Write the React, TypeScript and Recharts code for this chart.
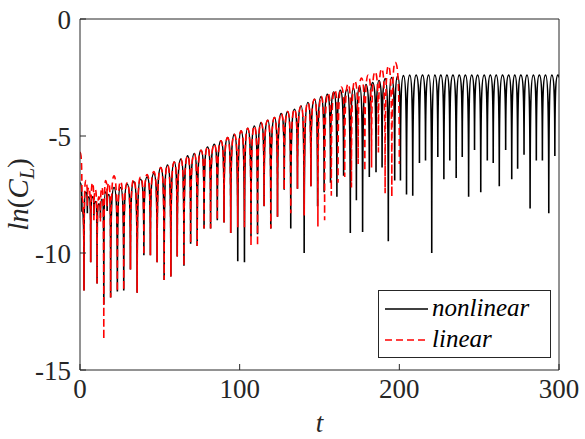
import { Legend, Line, LineChart, XAxis, YAxis } from 'recharts'

// ln(C_L) history: one sample per crest and per trough of the lift oscillation
const nonlinearT = [
  0, 1.2, 2.5, 3.6, 4.6, 5.6, 6.7, 7.8, 8.7, 9.7, 10.7, 11.8, 12.8, 13.8, 14.9, 16.0, 17.0, 18.1, 19.2,
  21.3, 23.4, 25.4, 27.4, 29.5, 31.6, 33.7, 35.8, 37.9, 40.0, 42.0, 44.1, 46.2, 48.3,
  50.6, 52.7, 54.8, 56.9, 59.0, 60.9, 63.2, 65.1, 67.4, 69.3, 71.6, 73.4, 75.8, 77.7, 79.9, 81.8,
  84.1, 86.0, 88.3, 90.2, 92.5, 94.4, 96.7, 98.8, 100.9, 103.0, 105.0, 107.1, 109.2, 111.2,
  113.4, 115.3, 117.6, 119.5, 121.8, 123.7, 126.0, 127.9, 130.1, 132.0, 134.3, 136.2, 138.5, 140.4,
  142.7, 144.6, 146.9, 148.8, 150.9, 152.9, 154.9, 156.9, 158.9, 160.9, 163.0, 165.1, 167.2, 169.3,
  171.2, 173.1, 175.1, 177.0, 179.1, 181.2, 183.3, 185.4, 187.3, 189.2, 191.2, 193.1, 195.1, 197.1,
  198.9, 200.7, 202.6, 204.5, 206.5, 208.4, 210.5, 212.6, 214.5, 216.4, 218.4, 220.3, 222.2, 224.1,
  226.0, 227.9, 229.8, 231.6, 233.6, 235.6, 237.5, 239.4, 241.4, 243.4, 245.3, 247.1, 249.1, 251.0,
  253.1, 255.1, 257.0, 258.8, 260.7, 262.6, 264.6, 266.6, 268.5, 270.4, 272.3, 274.1, 276.1, 278.1,
  280.0, 281.9, 283.9, 285.8, 287.7, 289.6, 291.6, 293.6, 295.5, 297.4, 299.3, 300,
]
const nonlinearY = [
  -7.0, -8.2, -11.6, -7.4, -8.3, -7.6, -10.4, -7.6, -8.4, -7.8, -11.3, -7.9, -8.5, -7.7, -12.2, -7.4, -8.2, -7.5, -11.9,
  -7.2, -11.65, -7.2, -11.6, -7.05, -10.7, -6.95, -11.7, -6.85, -10.1, -6.75, -10.1, -6.6, -10.4,
  -6.35, -11.15, -6.24, -11.0, -6.11, -10.15, -5.99, -10.55, -5.85, -9.6, -5.75, -9.7, -5.61, -8.95, -5.47, -8.95,
  -5.35, -8.6, -5.21, -8.7, -5.07, -9.15, -4.93, -10.35, -4.78, -10.4, -4.67, -9.3, -4.57, -9.2,
  -4.43, -8.0, -4.33, -8.95, -4.21, -8.45, -4.04, -7.3, -3.96, -8.95, -3.86, -7.25, -3.72, -10.0,
  -3.57, -7.15, -3.43, -8.0, -3.32, -7.4, -3.22, -7.0, -3.12, -7.6, -3.05, -6.7, -3.0, -9.15,
  -2.95, -7.75, -2.88, -9.1, -2.8, -6.75, -2.72, -6.55, -2.63, -6.35, -2.55, -9.5, -2.5, -6.9,
  -2.45, -6.9, -2.42, -7.5, -2.4, -7.55, -2.4, -6.15, -2.4, -6.05, -2.4, -10.0, -2.4, -5.9,
  -2.4, -6.85, -2.4, -6.05, -2.4, -6.8, -2.4, -5.9, -2.4, -7.6, -2.4, -5.6, -2.4, -7.4,
  -2.4, -6.05, -2.4, -6.15, -2.4, -7.15, -2.4, -5.6, -2.4, -6.85, -2.4, -6.4, -2.4, -5.8,
  -2.4, -8.1, -2.4, -6.05, -2.4, -6.05, -2.4, -8.3, -2.4, -5.85, -2.4, -2.5,
]

const linearT = [
  0, 1.2, 2.5, 3.6, 4.6, 5.6, 6.7, 7.8, 8.7, 9.7, 10.7, 11.8, 12.8, 13.8, 14.9, 16.0, 17.0, 18.1, 19.2,
  21.3, 23.4, 25.4, 27.4, 29.5, 31.6, 33.7, 35.8, 37.9, 40.0, 42.0, 44.1, 46.2, 48.3,
  50.6, 52.7, 54.8, 56.9, 59.0, 60.9, 63.2, 65.1, 67.4, 69.3, 71.6, 73.4, 75.8, 77.7, 79.9, 81.8,
  84.1, 86.0, 88.3, 90.2, 92.5, 94.4, 96.7, 98.8, 100.9, 103.0, 105.0, 107.1, 109.2, 111.2,
  113.4, 115.3, 117.6, 119.5, 121.8, 123.7, 126.0, 127.9, 130.1, 132.0, 134.3, 136.2, 138.5, 140.4,
  142.7, 144.6, 146.9, 149.0, 151.1, 153.2, 155.3, 157.4, 159.5, 161.6, 163.7, 165.8, 167.9, 170.0,
  172.1, 174.2, 176.3, 178.4, 180.5, 182.6, 184.8, 186.9, 189.0, 191.1, 193.2, 195.3, 197.4, 200.0,
]
const linearY = [
  -5.7, -7.6, -11.6, -6.9, -8.0, -7.2, -10.4, -7.0, -8.6, -7.3, -11.3, -7.6, -8.7, -7.2, -13.7, -6.9, -8.0, -7.0, -11.9,
  -6.7, -11.65, -6.95, -11.6, -7.0, -10.7, -6.85, -11.7, -6.75, -10.1, -6.65, -10.1, -6.52, -10.4,
  -6.35, -11.15, -6.24, -11.0, -6.11, -10.15, -5.99, -10.55, -5.85, -9.6, -5.75, -9.7, -5.61, -8.95, -5.47, -8.95,
  -5.35, -8.6, -5.21, -8.7, -5.07, -9.15, -4.93, -8.9, -4.78, -8.9, -4.67, -9.7, -4.57, -9.7,
  -4.43, -8.0, -4.33, -8.95, -4.21, -8.45, -4.04, -7.3, -3.96, -8.3, -3.86, -7.25, -3.72, -8.4,
  -3.57, -7.15, -3.43, -8.87, -3.3, -8.6, -3.17, -7.55, -3.04, -7.0, -2.91, -6.75, -2.78, -7.2,
  -2.65, -6.2, -2.52, -6.5, -2.39, -6.35, -2.26, -5.7, -2.13, -7.45, -2.0, -7.6, -1.85, -6.2,
]

const xTicks = [0, 100, 200, 300]
const yTicks = [-15, -10, -5, 0]

const toPoints = (ts: number[], ys: number[]) => ts.map((t, i) => ({ t, v: ys[i] }))
const nonlinearData = toPoints(nonlinearT, nonlinearY)
const linearData = toPoints(linearT, linearY)

// a log-magnitude trace has round crests and sharp cusps at the zero crossings,
// so each segment leaves a crest flat and enters a trough vertically
function cuspCurve(context: any) {
  let px = NaN
  let py = NaN
  let started = false
  return {
    areaStart() {},
    areaEnd() {},
    lineStart() {
      started = false
    },
    lineEnd() {},
    point(x: number, y: number) {
      x = +x
      y = +y
      if (!started) {
        context.moveTo(x, y)
        started = true
      } else {
        const dx = x - px
        const dy = y - py
        if (dy > 0) {
          context.bezierCurveTo(px + dx * 0.65, py, x, py + dy * 0.2, x, y)
        } else {
          context.bezierCurveTo(px, y - dy * 0.2, x - dx * 0.65, y, x, y)
        }
      }
      px = x
      py = y
    },
  }
}

const FONT = '"Liberation Serif", "DejaVu Serif", serif'
const AXIS = '#262626'
const tickStyle = { fill: AXIS, fontSize: 27, fontFamily: FONT }

function YTitle({ viewBox }: any) {
  const cy = viewBox ? viewBox.y + viewBox.height / 2 : 195
  return (
    <text
      transform={`translate(28, ${cy}) rotate(-90)`}
      textAnchor="middle"
      fontFamily={FONT}
      fontSize={29}
      fill={AXIS}
    >
      <tspan fontStyle="italic">ln</tspan>
      <tspan>(</tspan>
      <tspan fontStyle="italic">C</tspan>
      <tspan fontStyle="italic" fontSize={20} dy={6}>L</tspan>
      <tspan dy={-6}>)</tspan>
    </text>
  )
}

function XTitle({ viewBox }: any) {
  const cx = viewBox ? viewBox.x + viewBox.width / 2 : 319
  return (
    <text x={cx} y={432} textAnchor="middle" fontFamily={FONT} fontSize={27} fontStyle="italic" fill={AXIS}>
      t
    </text>
  )
}

function LegendBox() {
  return (
    <svg width={173} height={68} style={{ display: 'block' }}>
      <rect x={0.5} y={0.5} width={172} height={67} fill="#fff" stroke={AXIS} strokeWidth={1} />
      <line x1={7} x2={50} y1={19} y2={19} stroke="#000" strokeWidth={1.6} />
      <text x={54} y={26} fontFamily={FONT} fontSize={25} fontStyle="italic" fill="#000">
        nonlinear
      </text>
      <line x1={7} x2={50} y1={50} y2={50} stroke="#ff0000" strokeWidth={1.6} strokeDasharray="7 4" />
      <text x={54} y={57} fontFamily={FONT} fontSize={25} fontStyle="italic" fill="#000">
        linear
      </text>
    </svg>
  )
}

export default function App() {
  return (
    <div style={{ width: 585, height: 439 }}>
      <style>{'body { margin: 0; }'}</style>
      <LineChart width={585} height={439} margin={{ top: 0, right: 0, bottom: 0, left: 0 }}>
        <XAxis
          xAxisId="b"
          type="number"
          dataKey="t"
          domain={[0, 300]}
          ticks={xTicks}
          interval={0}
          allowDataOverflow
          height={69}
          tickSize={-6}
          tickMargin={15}
          tick={tickStyle}
          axisLine={{ stroke: AXIS }}
          tickLine={{ stroke: AXIS }}
          label={{ content: (p: any) => <XTitle {...p} /> }}
        />
        <XAxis
          xAxisId="top"
          orientation="top"
          type="number"
          domain={[0, 300]}
          ticks={xTicks}
          interval={0}
          allowDataOverflow
          height={19}
          tickSize={-6}
          tick={false}
          axisLine={{ stroke: AXIS }}
          tickLine={{ stroke: AXIS }}
        />
        <YAxis
          yAxisId="l"
          type="number"
          domain={[-15, 0]}
          ticks={yTicks}
          interval={0}
          allowDataOverflow
          width={80}
          tickSize={-6}
          tickMargin={15}
          tick={tickStyle}
          axisLine={{ stroke: AXIS }}
          tickLine={{ stroke: AXIS }}
          label={{ content: (p: any) => <YTitle {...p} /> }}
        />
        <YAxis
          yAxisId="r"
          orientation="right"
          type="number"
          domain={[-15, 0]}
          ticks={yTicks}
          interval={0}
          allowDataOverflow
          width={26}
          tickSize={-6}
          tick={false}
          axisLine={{ stroke: AXIS }}
          tickLine={{ stroke: AXIS }}
        />
        <Line
          xAxisId="b"
          yAxisId="l"
          data={nonlinearData}
          dataKey="v"
          name="nonlinear"
          type={cuspCurve as any}
          stroke="#000000"
          strokeWidth={1.6}
          dot={false}
          activeDot={false}
          isAnimationActive={false}
        />
        <Line
          xAxisId="b"
          yAxisId="l"
          data={linearData}
          dataKey="v"
          name="linear"
          type={cuspCurve as any}
          stroke="#ff0000"
          strokeWidth={1.6}
          strokeDasharray="7 4"
          dot={false}
          activeDot={false}
          isAnimationActive={false}
        />
        <Legend
          layout="vertical"
          align="center"
          verticalAlign="middle"
          content={() => <LegendBox />}
          wrapperStyle={{ left: 378, top: 290, width: 173, height: 68, right: 'auto', bottom: 'auto' }}
        />
      </LineChart>
    </div>
  )
}
